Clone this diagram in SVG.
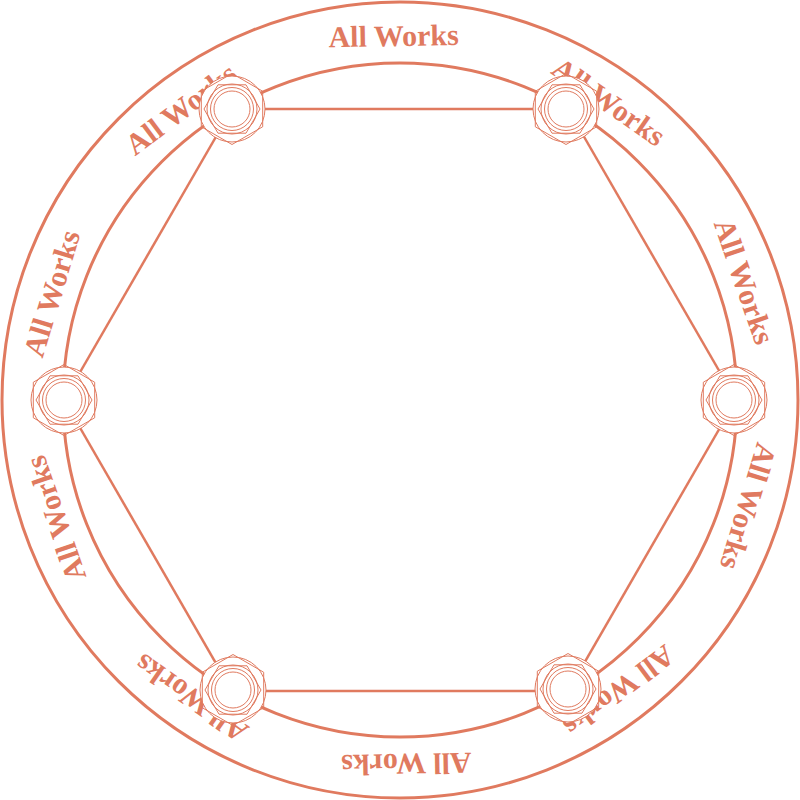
<svg xmlns="http://www.w3.org/2000/svg" xmlns:xlink="http://www.w3.org/1999/xlink" width="800" height="800" viewBox="0 0 800 800">
<style>
.ring{fill:none;stroke:#E07A5F;stroke-width:3}
.edge{stroke:#E07A5F;stroke-width:2.5;fill:none}
.g{fill:none;stroke:#E07A5F;stroke-width:1}
.lbl{font-family:"Liberation Serif","DejaVu Serif",serif;font-weight:bold;font-size:30px;fill:#E07A5F;text-anchor:middle}
</style>
<defs>
<g id="nut">
<circle r="33" fill="#fff" stroke="#E07A5F" stroke-width="1"/>
<polygon class="g" points="0,-35.5 30.7,-17.75 30.7,17.75 0,35.5 -30.7,17.75 -30.7,-17.75"/>
<polygon class="g" points="28,0 14,24.2 -14,24.2 -28,0 -14,-24.2 14,-24.2"/>
<circle class="g" r="25"/>
<circle class="g" r="21.5"/>
<circle class="g" r="18"/>
</g>
</defs>
<rect width="800" height="800" fill="#fff"/>
<circle class="ring" cx="400" cy="400" r="398"/>
<circle class="ring" cx="400" cy="400" r="337"/>
<g id="labels">
<text class="lbl" x="400" y="46" transform="rotate(-1 400 400)">All Works</text>
<text class="lbl" x="400" y="46" transform="rotate(35 400 400)">All Works</text>
<text class="lbl" x="400" y="46" transform="rotate(71 400 400)">All Works</text>
<text class="lbl" x="400" y="46" transform="rotate(107 400 400)">All Works</text>
<text class="lbl" x="400" y="46" transform="rotate(143 400 400)">All Works</text>
<text class="lbl" x="400" y="46" transform="rotate(179 400 400)">All Works</text>
<text class="lbl" x="400" y="46" transform="rotate(215 400 400)">All Works</text>
<text class="lbl" x="400" y="46" transform="rotate(251 400 400)">All Works</text>
<text class="lbl" x="400" y="46" transform="rotate(287 400 400)">All Works</text>
<text class="lbl" x="400" y="46" transform="rotate(323 400 400)">All Works</text>
</g>
<g id="connectors">
<line class="edge" x1="232" y1="109" x2="568" y2="109"/>
<line class="edge" x1="568" y1="109" x2="736" y2="400"/>
<line class="edge" x1="736" y1="400" x2="568" y2="691"/>
<line class="edge" x1="568" y1="691" x2="232" y2="691"/>
<line class="edge" x1="232" y1="691" x2="64" y2="400"/>
<line class="edge" x1="64" y1="400" x2="232" y2="109"/>
</g>
<g id="node-top-left"><use xlink:href="#nut" x="232" y="109"/></g>
<g id="node-top-right"><use xlink:href="#nut" x="566" y="109"/></g>
<g id="node-right"><use xlink:href="#nut" x="734" y="400"/></g>
<g id="node-bottom-right"><use xlink:href="#nut" x="568" y="689"/></g>
<g id="node-bottom-left"><use xlink:href="#nut" x="233" y="690"/></g>
<g id="node-left"><use xlink:href="#nut" x="64" y="400"/></g>
</svg>
